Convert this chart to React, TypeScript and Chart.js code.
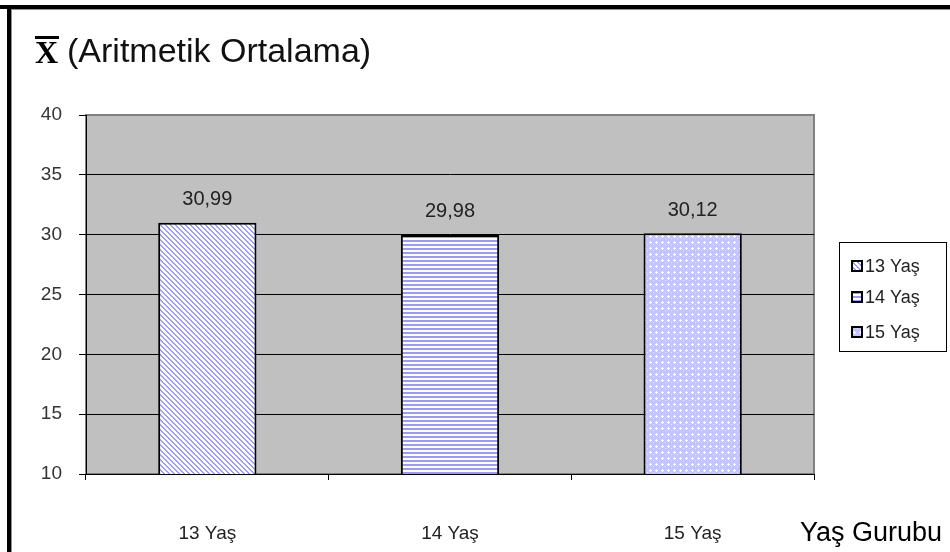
import React, { useEffect, useRef } from "react";
import { Chart, registerables } from "chart.js";

Chart.register(...registerables);

const categories = ["13 Yaş", "14 Yaş", "15 Yaş"];
const seriesNames = ["13 Yaş", "14 Yaş", "15 Yaş"];
const seriesValues = [30.99, 29.98, 30.12];
const yTicks = [10, 15, 20, 25, 30, 35, 40];
const titleText = "(Aritmetik Ortalama)";
const titleSymbol = "X";
const xAxisTitle = "Yaş Gurubu";

const FONT = "'Liberation Sans', Arial, sans-serif";

function makePattern(kind: number): CanvasPattern | string {
  const c = document.createElement("canvas");
  const g = c.getContext("2d");
  if (!g) return "#ccccff";
  if (kind === 0) {
    c.width = 5; c.height = 5;
    g.fillStyle = "#ffffff"; g.fillRect(0, 0, 5, 5);
    g.fillStyle = "#9d9dff";
    for (let i = 0; i < 5; i++) {
      g.fillRect(i, i, 1, 1);
      g.fillRect((i + 1) % 5, i, 1, 1);
    }
  } else if (kind === 1) {
    c.width = 4; c.height = 4;
    g.fillStyle = "#ffffff"; g.fillRect(0, 0, 4, 4);
    g.fillStyle = "#9999ff"; g.fillRect(0, 0, 4, 2);
  } else {
    c.width = 6; c.height = 6;
    g.fillStyle = "#c4c4ff"; g.fillRect(0, 0, 6, 6);
    g.fillStyle = "#ffffff";
    g.fillRect(2, 1, 1, 3);
    g.fillRect(1, 2, 3, 1);
    g.fillStyle = "#e6e6ff";
    g.fillRect(5, 4, 1, 1);
  }
  const p = g.createPattern(c, "repeat");
  return p || "#ccccff";
}

export default function App() {
  const ref = useRef<HTMLCanvasElement | null>(null);

  useEffect(() => {
    document.body.style.margin = "0";
    const canvas = ref.current;
    if (!canvas) return;
    const patterns = [makePattern(0), makePattern(1), makePattern(2)];

    const datasets = seriesNames.map((name, i) => ({
      label: name,
      data: categories.map((_, j) => (j === i ? seriesValues[i] : null)),
      backgroundColor: patterns[i],
      borderColor: "#000000",
      borderWidth: 2,
      categoryPercentage: 1,
      barPercentage: 0.405,
      skipNull: true,
    }));

    const bgPlugin = {
      id: "bg",
      beforeDraw(chart: any) {
        const { ctx, chartArea: a, width, height } = chart;
        ctx.save();
        ctx.fillStyle = "#ffffff";
        ctx.fillRect(0, 0, width, height);
        ctx.fillStyle = "#000000";
        ctx.fillRect(0, 5, width, 4);
        ctx.fillRect(7, 5, 4, height - 5);
        ctx.fillStyle = "#909090";
        ctx.fillRect(11, 9, width - 11, 1);
        ctx.fillRect(11, 9, 1, height - 9);
        ctx.fillStyle = "#c0c0c0";
        ctx.fillRect(a.left, a.top, a.right - a.left, a.bottom - a.top);
        ctx.strokeStyle = "#808080";
        ctx.lineWidth = 2;
        ctx.strokeRect(a.left, a.top, a.right - a.left, a.bottom - a.top);
        ctx.restore();
      },
      afterDatasetsDraw(chart: any) {
        const { ctx } = chart;
        ctx.save();
        ctx.font = `20px ${FONT}`;
        ctx.fillStyle = "#222222";
        ctx.textAlign = "center";
        ctx.textBaseline = "middle";
        chart.data.datasets.forEach((ds: any, i: number) => {
          const meta = chart.getDatasetMeta(i);
          meta.data.forEach((el: any, j: number) => {
            const v = ds.data[j];
            if (v === null || v === undefined) return;
            ctx.fillText(v.toFixed(2).replace(".", ","), el.x, el.y - 23);
          });
        });
        ctx.restore();
      },
      afterDraw(chart: any) {
        const { ctx } = chart;
        ctx.save();
        ctx.fillStyle = "#000000";
        ctx.font = `bold 32px 'Liberation Serif', 'DejaVu Serif', serif`;
        ctx.textBaseline = "alphabetic";
        ctx.textAlign = "left";
        ctx.fillText(titleSymbol, 35, 63);
        ctx.fillRect(35, 36, 24, 3);
        ctx.font = `34px ${FONT}`;
        ctx.fillStyle = "#111111";
        ctx.fillText(titleText, 67, 62);
        ctx.font = `27px ${FONT}`;
        ctx.fillStyle = "#000000";
        ctx.fillText(xAxisTitle, 800, 541);
        const bx = 839, by = 242, bw = 107, bh = 109;
        ctx.fillStyle = "#ffffff";
        ctx.fillRect(bx, by, bw, bh);
        ctx.strokeStyle = "#000000";
        ctx.lineWidth = 1;
        ctx.strokeRect(bx + 0.5, by + 0.5, bw, bh);
        const ys = [266, 297, 332];
        ctx.font = `18px ${FONT}`;
        ctx.textBaseline = "middle";
        chart.data.datasets.forEach((ds: any, i: number) => {
          const y = ys[i];
          ctx.fillStyle = ds.backgroundColor;
          ctx.fillRect(852, y - 5, 10, 10);
          ctx.strokeStyle = "#000000";
          ctx.lineWidth = 2;
          ctx.strokeRect(852, y - 5, 10, 10);
          ctx.fillStyle = "#222222";
          ctx.fillText(ds.label, 865, y + 1);
        });
        ctx.restore();
      },
    };

    const chart = new Chart(canvas, {
      type: "bar",
      data: { labels: categories, datasets: datasets as any },
      options: {
        responsive: false,
        animation: false,
        devicePixelRatio: 1,
        layout: { padding: { top: 115, right: 136, left: 0, bottom: 0 } },
        plugins: { legend: { display: false }, tooltip: { enabled: false }, title: { display: false } },
        scales: {
          x: {
            afterFit(scale: any) { scale.height = 78; },
            grid: {
              drawOnChartArea: false,
              drawTicks: true,
              tickLength: 6,
              color: "#000000",
              offset: true,
            },
            border: { color: "#000000", width: 1 },
            ticks: {
              color: "#222222",
              font: { family: FONT, size: 19 },
              padding: 42,
            },
          },
          y: {
            min: 10,
            max: 40,
            afterFit(scale: any) { scale.width = 86; },
            afterBuildTicks(scale: any) { scale.ticks = yTicks.map((v) => ({ value: v })); },
            grid: {
              color: (c: any) => (c.tick && c.tick.value === 40 ? "#808080" : "#000000"),
              tickColor: "#000000",
              tickLength: 7,
              lineWidth: 1,
            },
            border: { color: "#000000", width: 1 },
            ticks: {
              color: "#333333",
              font: { family: FONT, size: 19 },
              padding: 17,
            },
          },
        },
      },
      plugins: [bgPlugin],
    });
    return () => chart.destroy();
  }, []);

  return (
    <div style={{ position: "absolute", left: 0, top: 0, width: 950, height: 552 }}>
      <canvas ref={ref} width={950} height={552} style={{ width: 950, height: 552, display: "block" }} />
    </div>
  );
}
